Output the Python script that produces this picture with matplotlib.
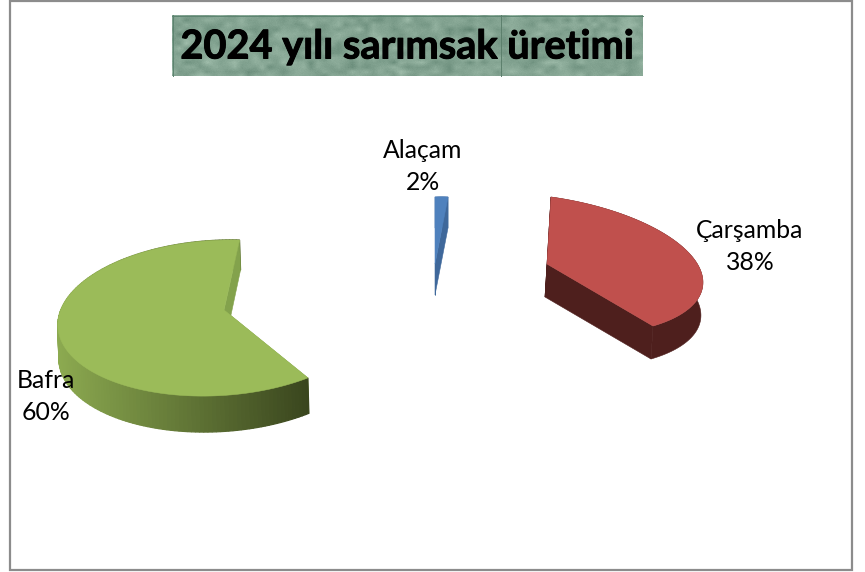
import numpy as np
import matplotlib
matplotlib.use("Agg")
import matplotlib.pyplot as plt
import matplotlib.patheffects as pe
from matplotlib.patches import Polygon, Rectangle

# --- data ---
categories = ["Alaçam", "Çarşamba", "Bafra"]
values = [2, 38, 60]
percent_labels = ["2%", "38%", "60%"]
title_text = "2024 yılı sarımsak üretimi"

# --- styling / layout ---
top_colors = ["#4f81bd", "#c0504d", "#9bbb59"]
face_colors = ["#3f689b", "#4e1f1d", "#83a24c"]
rim_colors = ["#3f689b", "#4e1f1d", None]
border_color = "#8c8c8c"
depth = {0: (0, 31, 0), 1: (-2, 33, 0), 2: (1, 33, 3)}  # dx, dy, dy per unit of depth


def unit(deg):
    return np.sin(np.radians(deg)), np.cos(np.radians(deg))


def homography(pairs):
    A, b = [], []
    for (X, Y), (x, y) in pairs:
        A.append([X, Y, 1, 0, 0, 0, -x * X, -x * Y]); b.append(x)
        A.append([0, 0, 0, X, Y, 1, -y * X, -y * Y]); b.append(y)
    h = np.linalg.solve(np.array(A, float), np.array(b, float))
    return np.append(h, 1).reshape(3, 3)


def ellipse_homography(E, apex, anchor):
    """Perspective map of the unit circle onto ellipse E, with the circle centre at apex."""
    E = np.array(E, float)
    p = np.linalg.solve(E, [apex[0], apex[1], 1.0])
    p = p[:2] / p[2]
    r = np.hypot(*p)
    u = p / r
    g = 1 / np.sqrt(1 - r ** 2)
    L = np.eye(3)
    L[:2, :2] += (g - 1) * np.outer(u, u)
    L[:2, 2] = g * r * u
    L[2, :2] = g * r * u
    L[2, 2] = g
    H0 = E @ L
    v = np.linalg.solve(H0, [anchor[0], anchor[1], 1.0])
    phi = np.arctan2(v[0], v[1])
    R = np.array([[np.cos(phi), np.sin(phi), 0], [-np.sin(phi), np.cos(phi), 0], [0, 0, 1]])
    return H0 @ R


def project(H, X, Y):
    w = H[2, 0] * X + H[2, 1] * Y + H[2, 2]
    return (H[0, 0] * X + H[0, 1] * Y + H[0, 2]) / w, (H[1, 0] * X + H[1, 1] * Y + H[1, 2]) / w


projections = [
    homography([((0, 0), (435, 264)), ((0, 1), (435, 197)), (unit(7.2), (448, 197)), ((1, 0), (539, 264))]),
    homography([((0, 0), (547, 264)), (unit(7.2), (551, 197)), ((1, 0), (702, 275)), (unit(144), (653, 326))]),
    ellipse_homography([[159, 7, 217], [-3.5, -78, 318], [0, 0, 1]], (224, 310), (240, 238)),
]

fig = plt.figure(figsize=(8.65, 5.72), dpi=100)
ax = fig.add_axes([0, 0, 1, 1])

# title banner with a mottled green texture
rng = np.random.default_rng(7)
tw, th = 471, 61
coarse = rng.normal(size=(th // 5 + 2, tw // 7 + 2))
cx = np.interp(np.arange(tw), np.linspace(0, tw, coarse.shape[1]), np.arange(coarse.shape[1]))
cy = np.interp(np.arange(th), np.linspace(0, th, coarse.shape[0]), np.arange(coarse.shape[0]))
xi, yi = np.meshgrid(cx, cy)
x0, y0 = xi.astype(int).clip(0, coarse.shape[1] - 2), yi.astype(int).clip(0, coarse.shape[0] - 2)
fx, fy = xi - x0, yi - y0
noise = (coarse[y0, x0] * (1 - fx) * (1 - fy) + coarse[y0, x0 + 1] * fx * (1 - fy)
         + coarse[y0 + 1, x0] * (1 - fx) * fy + coarse[y0 + 1, x0 + 1] * fx * fy)
noise = noise + 0.15 * rng.normal(size=noise.shape)
base = np.array([132, 164, 146], float)
tex = np.clip(base[None, None, :] + noise[..., None] * np.array([11, 10, 10]), 0, 255) / 255
ax.imshow(tex, extent=(172, 643, 76, 15), aspect="auto", interpolation="bilinear", zorder=1)
ax.set_xlim(0, 865)
ax.set_ylim(572, 0)
ax.axis("off")

# chart border
ax.add_patch(Rectangle((10, 0.8), 842, 569.2, fill=False, ec=border_color, lw=1.6))

ax.plot([172, 643], [15.5, 15.5], color="#5c8470", lw=0.7, zorder=2)
ax.plot([172.5, 172.5], [15, 76], color="#5c8470", lw=0.7, zorder=2)
ax.plot([500.5, 500.5], [15, 76], color="#5c7f6c", lw=0.7, zorder=2)
ax.text(407, 47, title_text, family="Lato", weight="bold", fontsize=28.6, color="black",
        ha="center", va="center", zorder=3,
        path_effects=[pe.withStroke(linewidth=0.7, foreground="black")])

# exploded 3-D slices
fractions = np.array(values, float) / np.sum(values)
edges = np.concatenate([[0], np.cumsum(fractions)]) * 2 * np.pi
for i in range(len(values)):
    H = projections[i]
    th_arc = np.linspace(edges[i], edges[i + 1], 160)
    X, Y = np.sin(th_arc), np.cos(th_arc)
    px, py = project(H, X, Y)
    dx, dy, dyk = depth[i]
    off = dy - dyk * Y
    qx, qy = px + dx, py + off
    ax0, ay0 = project(H, 0.0, 0.0)
    apex_b = (ax0 + dx, ay0 + dy)
    # radial side faces: the closing face sits over the rim, the opening one under it
    for j, z in ((0, 3.5), (-1, 4.5)):
        ax.add_patch(Polygon([(ax0, ay0), (px[j], py[j]), (qx[j], qy[j]), apex_b],
                             fc=face_colors[i], ec=face_colors[i], lw=0.4, zorder=z))
    # outer rim
    if rim_colors[i] is None:
        for k in range(len(th_arc) - 1):
            f = np.clip((px[k] - px.min()) / (px.max() - px.min()), 0, 1)
            col = ((1 - f) * np.array([140, 170, 80]) + f * np.array([58, 70, 30])) / 255
            ax.add_patch(Polygon([(px[k], py[k]), (px[k + 1], py[k + 1]), (qx[k + 1], qy[k + 1]), (qx[k], qy[k])],
                                 fc=col, ec=col, lw=0.9, zorder=4))
    else:
        ax.add_patch(Polygon(np.column_stack([np.r_[px, qx[::-1]], np.r_[py, qy[::-1]]]),
                             fc=rim_colors[i], ec=rim_colors[i], lw=0.4, zorder=4))
    # top surface
    ax.add_patch(Polygon(np.column_stack([np.r_[ax0, px], np.r_[ay0, py]]),
                         fc=top_colors[i], ec=top_colors[i], lw=0.4, zorder=5))

# data labels
label_pos = [(423, 151, 182), (750, 230, 262), (46, 381, 413)]
for name, pct, (lx, ly1, ly2) in zip(categories, percent_labels, label_pos):
    ax.text(lx, ly1, name, family="Lato", fontsize=17.8, ha="center", va="center", color="black", zorder=6)
    ax.text(lx, ly2, pct, family="Lato", fontsize=17.8, ha="center", va="center", color="black", zorder=6)

fig.savefig("out.png", dpi=100, facecolor="white")
